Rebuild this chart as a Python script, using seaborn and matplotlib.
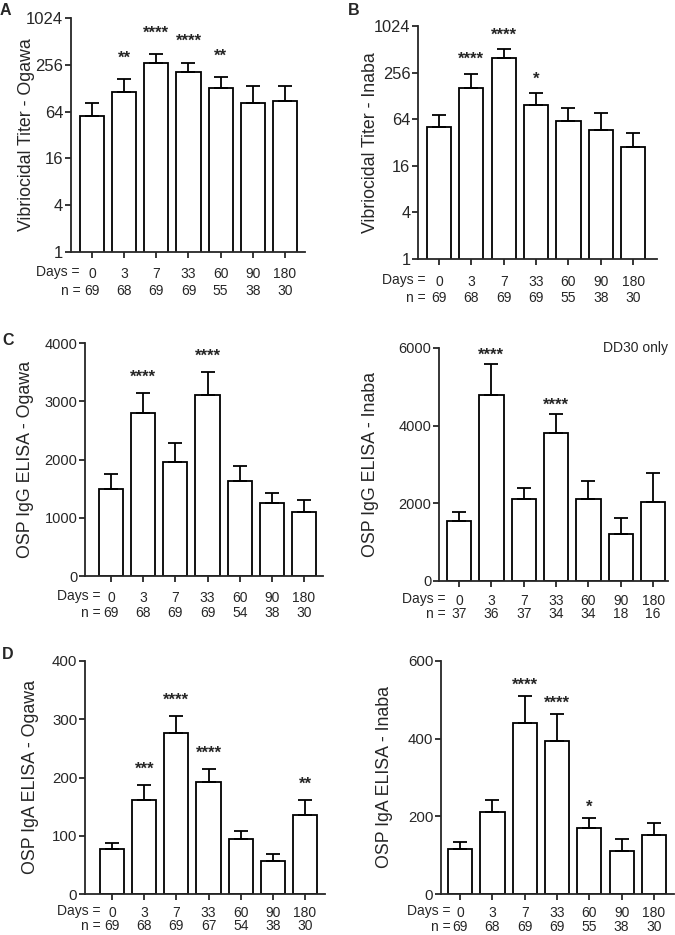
import numpy as np
import pandas as pd
from matplotlib import pyplot as plt
from matplotlib.ticker import FixedLocator, FixedFormatter
import seaborn as sns

days = ["0", "3", "7", "33", "60", "90", "180"]

# A: vibriocidal titer, Ogawa
vib_ogawa_mean = [57, 114, 267, 204, 128, 83, 87]
vib_ogawa_upper = [82, 170, 352, 274, 177, 136, 138]
vib_ogawa_n = [69, 68, 69, 69, 55, 38, 30]
vib_ogawa_stars = ["", "**", "****", "****", "**", "", ""]

# B: vibriocidal titer, Inaba
vib_inaba_mean = [51, 162, 399, 97, 60, 46, 28]
vib_inaba_upper = [73, 249, 516, 138, 89, 77, 43]
vib_inaba_n = [69, 68, 69, 69, 55, 38, 30]
vib_inaba_stars = ["", "****", "****", "*", "", "", ""]

# C: OSP IgG ELISA
igg_ogawa_mean = [1490, 2800, 1950, 3105, 1630, 1255, 1105]
igg_ogawa_upper = [1755, 3140, 2275, 3495, 1890, 1420, 1310]
igg_ogawa_n = [69, 68, 69, 69, 54, 38, 30]
igg_ogawa_stars = ["", "****", "", "****", "", "", ""]

igg_inaba_mean = [1545, 4785, 2100, 3815, 2115, 1210, 2040]
igg_inaba_upper = [1775, 5595, 2385, 4305, 2570, 1610, 2785]
igg_inaba_n = [37, 36, 37, 34, 34, 18, 16]
igg_inaba_stars = ["", "****", "", "****", "", "", ""]

# D: OSP IgA ELISA
iga_ogawa_mean = [78, 161, 276, 193, 94, 56, 135]
iga_ogawa_upper = [88, 187, 306, 215, 108, 69, 161]
iga_ogawa_n = [69, 68, 69, 67, 54, 38, 30]
iga_ogawa_stars = ["", "***", "****", "****", "", "", "**"]

iga_inaba_mean = [116, 211, 440, 393, 171, 111, 151]
iga_inaba_upper = [133, 243, 509, 463, 196, 141, 182]
iga_inaba_n = [69, 68, 69, 69, 55, 38, 30]
iga_inaba_stars = ["", "", "****", "****", "*", "", ""]

log_ticks = [1, 4, 16, 64, 256, 1024]

sns.set_style("ticks")
plt.rcParams["font.family"] = ["Liberation Sans", "DejaVu Sans"]

W, H = 675, 935
fig = plt.figure(figsize=(W / 100, H / 100), dpi=100)


def pt(px):
    return px * 72 / 100


def below(ax, x, text, dx_px, dy_px, ha):
    # text whose digit centre sits dy_px pixels under the x axis
    ax.annotate(text, xy=(x, 0), xycoords=("data", "axes fraction"),
                xytext=(pt(dx_px), -pt(dy_px + 1.4)), textcoords="offset points",
                ha=ha, va="center", fontsize=10, annotation_clip=False)


def panel(box, xlim, mean, upper, n, stars, ylabel, ticks, log, ysize,
          label_px, star_px, row1, rowgap, days_dx):
    left, top, right, bottom = box
    ax = fig.add_axes([left / W, 1 - bottom / H, (right - left) / W, (bottom - top) / H])
    if log:
        ax.set_yscale("log", base=2)
    df = pd.DataFrame({"day": days, "mean": mean})
    sns.barplot(data=df, x="day", y="mean", order=days, color="white",
                edgecolor="black", linewidth=1.3, width=0.75, saturation=1, ax=ax)
    mean = np.array(mean, float)
    upper = np.array(upper, float)
    ax.errorbar(np.arange(len(days)), mean, yerr=[np.zeros(len(days)), upper - mean],
                fmt="none", ecolor="black", elinewidth=1.3, capsize=4.7, capthick=1.3, zorder=3)
    for i, s in enumerate(stars):
        if s:
            ax.annotate(s, xy=(i, upper[i]), xytext=(0, pt(star_px - 9.7)),
                        textcoords="offset points", ha="center", va="baseline",
                        fontsize=12, fontweight="bold")
    ax.set_xlim(*xlim)
    ax.set_ylim(ticks[0], ticks[-1])
    ax.yaxis.set_major_locator(FixedLocator(ticks))
    ax.yaxis.set_major_formatter(FixedFormatter([str(t) for t in ticks]))
    ax.yaxis.set_minor_locator(FixedLocator([]))
    ax.set_xticks(range(len(days)))
    ax.tick_params(axis="y", labelsize=ysize, length=4, width=1.3, pad=1.5)
    ax.tick_params(axis="x", length=4, width=1.3, labelbottom=False)
    ax.set_xlabel("")
    ax.set_ylabel(ylabel, fontsize=12.8)
    ax.yaxis.set_label_coords((label_px - left) / (right - left), 0.5)
    for sp in ["top", "right"]:
        ax.spines[sp].set_visible(False)
    for sp in ["left", "bottom"]:
        ax.spines[sp].set_linewidth(1.3)
    # two rows under the axis: day and group size
    for i, (d, k) in enumerate(zip(days, n)):
        below(ax, i, d, 0, row1, "center")
        below(ax, i, str(k), 0, row1 + rowgap, "center")
    below(ax, 0, "Days =", days_dx, row1 - 2, "right")
    below(ax, 0, "n =", days_dx + 1, row1 + rowgap, "right")
    return ax


# boxes are (left, top, right, bottom) in pixels
panel((71, 18, 305, 252), (-0.65, 6.62), vib_ogawa_mean, vib_ogawa_upper, vib_ogawa_n,
      vib_ogawa_stars, "Vibriocidal Titer - Ogawa", log_ticks, True, 12, 35, 26, 21, 17, -12)
panel((418, 26, 657, 259), (-0.65, 6.74), vib_inaba_mean, vib_inaba_upper, vib_inaba_n,
      vib_inaba_stars, "Vibriocidal Titer - Inaba", log_ticks, True, 11.8, 379, 19, 22, 16, -14)
panel((85, 343, 323, 576), (-0.81, 6.59), igg_ogawa_mean, igg_ogawa_upper, igg_ogawa_n,
      igg_ogawa_stars, "OSP IgG ELISA - Ogawa", [0, 1000, 2000, 3000, 4000], False, 10.5,
      34, 21, 21, 15, -11)
ax_cr = panel((439, 348, 668, 581), (-0.62, 6.46), igg_inaba_mean, igg_inaba_upper, igg_inaba_n,
              igg_inaba_stars, "OSP IgG ELISA - Inaba", [0, 2000, 4000, 6000], False, 10.5,
              379, 14, 19, 12.5, -14)
ax_cr.text(1.0, 1.0, "DD30 only", transform=ax_cr.transAxes, ha="right", va="center", fontsize=10)
panel((85, 661, 325, 894), (-0.84, 6.62), iga_ogawa_mean, iga_ogawa_upper, iga_ogawa_n,
      iga_ogawa_stars, "OSP IgA ELISA - Ogawa", [0, 100, 200, 300, 400], False, 10.8,
      39, 21, 17.5, 13.3, -12)
panel((441, 661, 674, 894), (-0.59, 6.62), iga_inaba_mean, iga_inaba_upper, iga_inaba_n,
      iga_inaba_stars, "OSP IgA ELISA - Inaba", [0, 200, 400, 600], False, 10.8,
      393, 16, 18, 13.5, -10)

for letter, x, y in [("A", 0, 3), ("B", 348, 3), ("C", 2, 333), ("D", 2, 647)]:
    fig.text(x / W, 1 - y / H, letter, ha="left", va="top", fontsize=11.5, fontweight="bold")

fig.savefig("out.png", dpi=100)
